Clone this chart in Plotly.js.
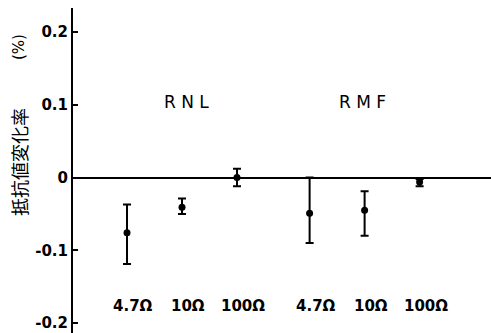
<!DOCTYPE html>
<html>
<head>
<meta charset="utf-8">
<script src="https://cdn.plot.ly/plotly-3.0.1.min.js"></script>
<style>html,body{margin:0;padding:0;background:#fff;}#chart{width:491px;height:333px;}</style>
</head>
<body>
<div id="chart"></div>
<script>
// Data (resistance change rate, %)
const groups = ["RNL", "RMF"];
const resistors = ["4.7Ω", "10Ω", "100Ω"];
const rnlValue = [-0.076, -0.041, 0.000];
const rnlUpper = [-0.037, -0.029, 0.012];
const rnlLower = [-0.119, -0.050, -0.012];
const rmfValue = [-0.049, -0.045, -0.006];
const rmfUpper = [0.000, -0.019, -0.002];
const rmfLower = [-0.090, -0.080, -0.012];
const yTickVals = [-0.2, -0.1, 0, 0.1, 0.2];
const yTickText = ["-0.2", "-0.1", "0", "0.1", "0.2"];

const groupGap = 3.32;
const font = "DejaVu Sans, sans-serif";

function xs(g) { return resistors.map((_, i) => g * groupGap + i); }

function trace(g, val, up, lo) {
  return {
    type: "scatter", mode: "markers",
    x: xs(g), y: val,
    marker: {color: "#000", size: 7},
    error_y: {
      type: "data", symmetric: false,
      array: val.map((v, i) => up[i] - v),
      arrayminus: val.map((v, i) => v - lo[i]),
      color: "#000", thickness: 2, width: 4
    },
    showlegend: false, hoverinfo: "none"
  };
}

const annotations = [];
[0, 1].forEach(g => {
  xs(g).forEach((x, i) => {
    annotations.push({
      x: x, y: -0.177, xref: "x", yref: "y", text: "<b>" + resistors[i] + "</b>",
      showarrow: false, xshift: 6, font: {family: font, size: 15, color: "#000"}
    });
  });
});
annotations.push({x: 1, y: 0.104, xref: "x", yref: "y", text: "R N L", xshift: 4,
  showarrow: false, font: {family: font, size: 17, color: "#000"}});
annotations.push({x: groupGap + 1, y: 0.104, xref: "x", yref: "y", text: "R M F", xshift: -2,
  showarrow: false, font: {family: font, size: 17, color: "#000"}});
annotations.push({x: 0, y: (333 - 162) / 325, xref: "paper", yref: "paper", text: "抵抗値変化率",
  showarrow: false, xshift: -54, xanchor: "center", yanchor: "middle", textangle: -90,
  font: {family: "Noto Sans CJK JP, sans-serif", size: 18, color: "#000"}});
annotations.push({x: 0, y: 0.2, xref: "paper", yref: "y", text: "(%)",
  showarrow: false, xshift: -54, yshift: -15, xanchor: "center", yanchor: "middle", textangle: -90,
  font: {family: font, size: 15, color: "#000"}});

const layout = {
  width: 491, height: 333,
  margin: {l: 73, r: 0, t: 8, b: 0},
  paper_bgcolor: "#fff", plot_bgcolor: "#fff",
  showlegend: false,
  xaxis: {range: [-0.982, 6.618], visible: false, showgrid: false, zeroline: false, fixedrange: true},
  yaxis: {
    range: [-0.2137, 0.233],
    tickvals: yTickVals, ticktext: yTickText.map(t => "<b>" + t + "</b>"),
    ticks: "inside", ticklen: 5, tickwidth: 2, tickcolor: "#000",
    showline: true, linewidth: 2, linecolor: "#000",
    showgrid: false,
    zeroline: true, zerolinecolor: "#000", zerolinewidth: 2,
    tickfont: {family: font, size: 15, color: "#000"}
  },
  annotations: annotations
};

Plotly.newPlot("chart", [trace(0, rnlValue, rnlUpper, rnlLower), trace(1, rmfValue, rmfUpper, rmfLower)], layout, {staticPlot: true, displayModeBar: false});
</script>
</body>
</html>
